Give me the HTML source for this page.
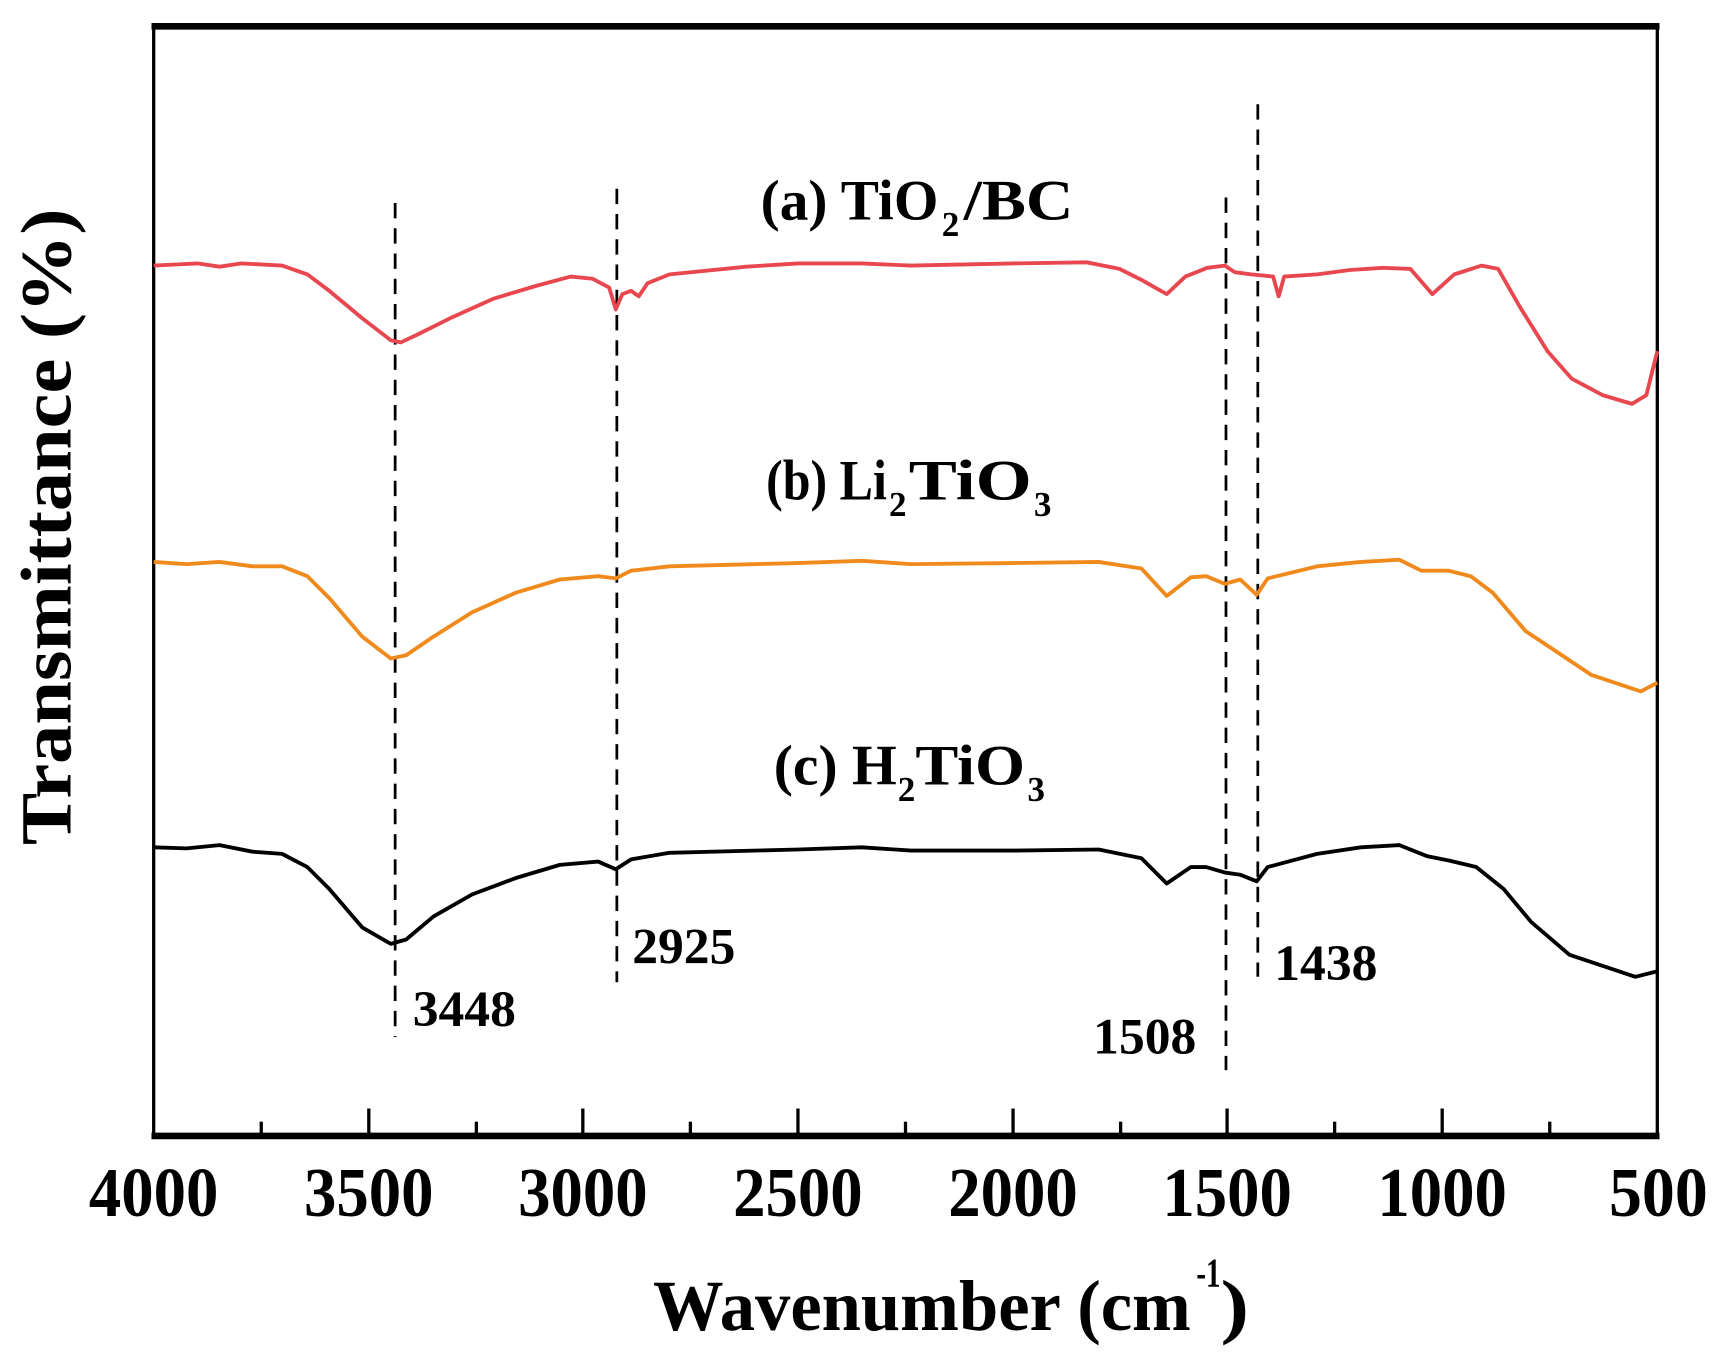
<!DOCTYPE html>
<html><head><meta charset="utf-8"><style>html,body{margin:0;padding:0;background:#fff}svg{display:block}</style></head>
<body>
<svg width="1721" height="1356" viewBox="0 0 1568 1235.5" xmlns="http://www.w3.org/2000/svg" font-family="'Liberation Serif',serif" font-weight="bold">
<rect width="1568" height="1236" fill="#fff"/>
<line x1="138" y1="24" x2="1512" y2="24" stroke="#000" stroke-width="6"/>
<line x1="138" y1="1035" x2="1512" y2="1035" stroke="#000" stroke-width="6"/>
<line x1="140" y1="22" x2="140" y2="1037" stroke="#000" stroke-width="3"/>
<line x1="1510" y1="22" x2="1510" y2="1037" stroke="#000" stroke-width="3"/>
<g stroke="#000" stroke-width="3">
<line x1="336" y1="1035" x2="336" y2="1010"/><line x1="531" y1="1035" x2="531" y2="1010"/><line x1="727" y1="1035" x2="727" y2="1010"/><line x1="923" y1="1035" x2="923" y2="1010"/><line x1="1118" y1="1035" x2="1118" y2="1010"/><line x1="1314" y1="1035" x2="1314" y2="1010"/>
<line x1="238" y1="1035" x2="238" y2="1022"/><line x1="434" y1="1035" x2="434" y2="1022"/><line x1="629" y1="1035" x2="629" y2="1022"/><line x1="825" y1="1035" x2="825" y2="1022"/><line x1="1021" y1="1035" x2="1021" y2="1022"/><line x1="1216" y1="1035" x2="1216" y2="1022"/><line x1="1412" y1="1035" x2="1412" y2="1022"/>
</g>
<g font-size="64">
<text x="81" y="1108" textLength="118" lengthAdjust="spacingAndGlyphs">4000</text>
<text x="277" y="1108" textLength="118" lengthAdjust="spacingAndGlyphs">3500</text>
<text x="472" y="1108" textLength="118" lengthAdjust="spacingAndGlyphs">3000</text>
<text x="668" y="1108" textLength="118" lengthAdjust="spacingAndGlyphs">2500</text>
<text x="864" y="1108" textLength="118" lengthAdjust="spacingAndGlyphs">2000</text>
<text x="1059" y="1108" textLength="118" lengthAdjust="spacingAndGlyphs">1500</text>
<text x="1255" y="1108" textLength="118" lengthAdjust="spacingAndGlyphs">1000</text>
<text x="1466" y="1108" textLength="90" lengthAdjust="spacingAndGlyphs">500</text>
</g>
<text x="595" y="1212" font-size="66" textLength="490" lengthAdjust="spacingAndGlyphs">Wavenumber (cm</text>
<text x="1090" y="1172" font-size="38" textLength="22" lengthAdjust="spacingAndGlyphs">-1</text>
<text x="1112" y="1212" font-size="66" textLength="26" lengthAdjust="spacingAndGlyphs">)</text>
<text transform="translate(64,480) rotate(-90)" font-size="66" text-anchor="middle" textLength="580" lengthAdjust="spacingAndGlyphs">Transmittance (%)</text>
<g stroke="#000" stroke-width="2.5" stroke-dasharray="14,9">
<line x1="360" y1="185" x2="360" y2="945"/>
<line x1="562" y1="172" x2="562" y2="895"/>
<line x1="1117" y1="180" x2="1117" y2="975"/>
<line x1="1146" y1="95" x2="1146" y2="890"/>
</g>
<g font-size="46">
<text x="376" y="935" textLength="94" lengthAdjust="spacingAndGlyphs">3448</text>
<text x="576" y="878" textLength="94" lengthAdjust="spacingAndGlyphs">2925</text>
<text x="996" y="960" textLength="94" lengthAdjust="spacingAndGlyphs">1508</text>
<text x="1161" y="893" textLength="94" lengthAdjust="spacingAndGlyphs">1438</text>
</g>
<g font-size="52">
<text x="693" y="200" textLength="162" lengthAdjust="spacingAndGlyphs">(a) TiO</text>
<text x="858" y="215" font-size="32">2</text>
<text x="878" y="200" textLength="100" lengthAdjust="spacingAndGlyphs">/BC</text>
<text x="698" y="455" textLength="110" lengthAdjust="spacingAndGlyphs">(b) Li</text>
<text x="810" y="470" font-size="32">2</text>
<text x="828" y="455" textLength="112" lengthAdjust="spacingAndGlyphs">TiO</text>
<text x="942" y="470" font-size="32">3</text>
<text x="705" y="715" textLength="112" lengthAdjust="spacingAndGlyphs">(c) H</text>
<text x="818" y="730" font-size="32">2</text>
<text x="834" y="715" textLength="100" lengthAdjust="spacingAndGlyphs">TiO</text>
<text x="936" y="730" font-size="32">3</text>
</g>
<g fill="none" stroke-width="3.5" stroke-linejoin="round">
<path stroke="#e8474f" d="M140,242 L160,241 L180,240 L200,243 L220,240 L257,242 L280,250 L300,265 L330,290 L356,310 L365,312 L380,305 L410,290 L450,272 L490,260 L520,252 L540,254 L555,262 L561,282 L567,268 L575,265 L582,270 L590,258 L610,250 L680,243 L727,240 L785,240 L830,242 L923,240 L990,239 L1020,245 L1040,255 L1063,268 L1080,252 L1100,244 L1116,242 L1125,248 L1140,250 L1160,252 L1165,270 L1170,252 L1200,250 L1230,246 L1260,244 L1285,245 L1305,268 L1325,250 L1350,242 L1365,245 L1385,280 L1410,320 L1432,345 L1460,360 L1487,368 L1500,360 L1510,320"/>
<path stroke="#f08a1c" d="M140,512 L170,514 L200,512 L230,516 L257,516 L280,525 L300,545 L330,580 L356,600 L370,597 L395,580 L430,558 L470,540 L510,528 L545,525 L561,527 L575,520 L610,516 L727,513 L785,511 L830,514 L923,513 L1001,512 L1040,518 L1063,543 L1085,526 L1099,525 L1116,532 L1130,528 L1145,542 L1155,527 L1200,516 L1240,512 L1275,510 L1295,520 L1320,520 L1340,525 L1360,540 L1390,575 L1420,595 L1450,615 L1480,625 L1495,630 L1510,622"/>
<path stroke="#000" d="M140,772 L170,773 L200,770 L230,776 L257,778 L280,790 L300,810 L330,845 L356,860 L370,856 L395,835 L430,815 L470,800 L510,788 L545,785 L561,792 L575,783 L610,777 L727,774 L785,772 L830,775 L923,775 L1001,774 L1040,782 L1063,805 L1085,790 L1099,790 L1116,795 L1130,797 L1145,803 L1155,790 L1200,778 L1240,772 L1275,770 L1300,780 L1320,784 L1345,790 L1370,810 L1395,840 L1430,870 L1460,880 L1490,890 L1510,885"/>
</g>
</svg>
</body></html>
